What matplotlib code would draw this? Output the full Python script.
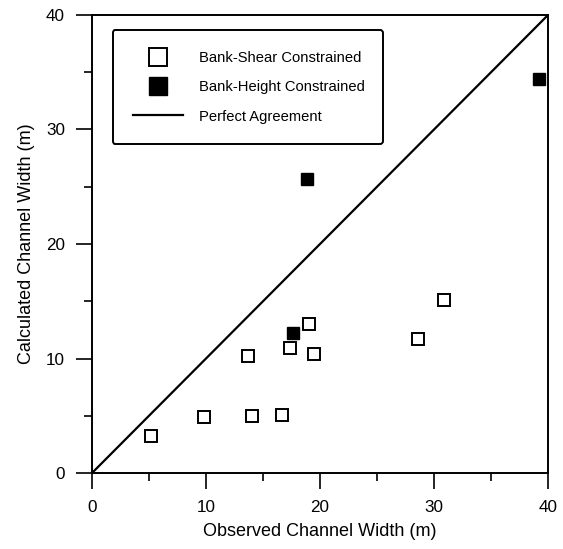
import matplotlib
matplotlib.use("Agg")
import matplotlib.pyplot as plt
from matplotlib.ticker import MultipleLocator

plt.rcParams['font.family'] = ['Liberation Sans', 'DejaVu Sans']

# observed vs calculated channel width (m)
shear_obs = [5.2, 9.8, 14.0, 16.7, 13.7, 17.4, 19.5, 19.0, 28.6, 30.9]
shear_calc = [3.2, 4.9, 5.0, 5.1, 10.2, 10.9, 10.4, 13.0, 11.7, 15.1]
height_obs = [17.6, 18.9, 39.2]
height_calc = [12.2, 25.7, 34.4]
line_vals = [0, 40]

fig = plt.figure(figsize=(5.63, 5.49), dpi=100)
ax = fig.add_axes([0.1634, 0.1384, 0.8100, 0.8343])

ax.plot(line_vals, line_vals, color='black', lw=1.6, label='Perfect Agreement', zorder=2)
ax.plot(shear_obs, shear_calc, ls='none', marker='s', ms=8, mfc='white', mec='black',
        mew=1.4, label='Bank-Shear Constrained', zorder=3)
ax.plot(height_obs, height_calc, ls='none', marker='s', ms=8, mfc='black', mec='black',
        mew=1.0, label='Bank-Height Constrained', zorder=3)

ax.set_xlim(0, 40)
ax.set_ylim(0, 40)
ax.xaxis.set_major_locator(MultipleLocator(10))
ax.yaxis.set_major_locator(MultipleLocator(10))
ax.xaxis.set_minor_locator(MultipleLocator(5))
ax.yaxis.set_minor_locator(MultipleLocator(5))
ax.tick_params(which='major', direction='out', length=11.5, width=1.2, labelsize=12.3, pad=8)
ax.tick_params(which='minor', direction='out', length=6, width=1.2)
for s in ax.spines.values():
    s.set_linewidth(1.4)

ax.set_xlabel('Observed Channel Width (m)', fontsize=13, labelpad=6)
ax.set_ylabel('Calculated Channel Width (m)', fontsize=13, labelpad=8)

h, l = ax.get_legend_handles_labels()
order = [1, 2, 0]
leg = ax.legend([h[i] for i in order], [l[i] for i in order],
                loc='upper left', bbox_to_anchor=(0.045, 0.967, 0.5925, 0.0),
                mode='expand', borderaxespad=0, fontsize=10.6, markerscale=1.6,
                handlelength=3.4, handletextpad=1.05, labelspacing=1.05, borderpad=1.4,
                fancybox=True, framealpha=1, edgecolor='black')
leg.get_frame().set_linewidth(1.4)

fig.savefig('out.png', dpi=100)
